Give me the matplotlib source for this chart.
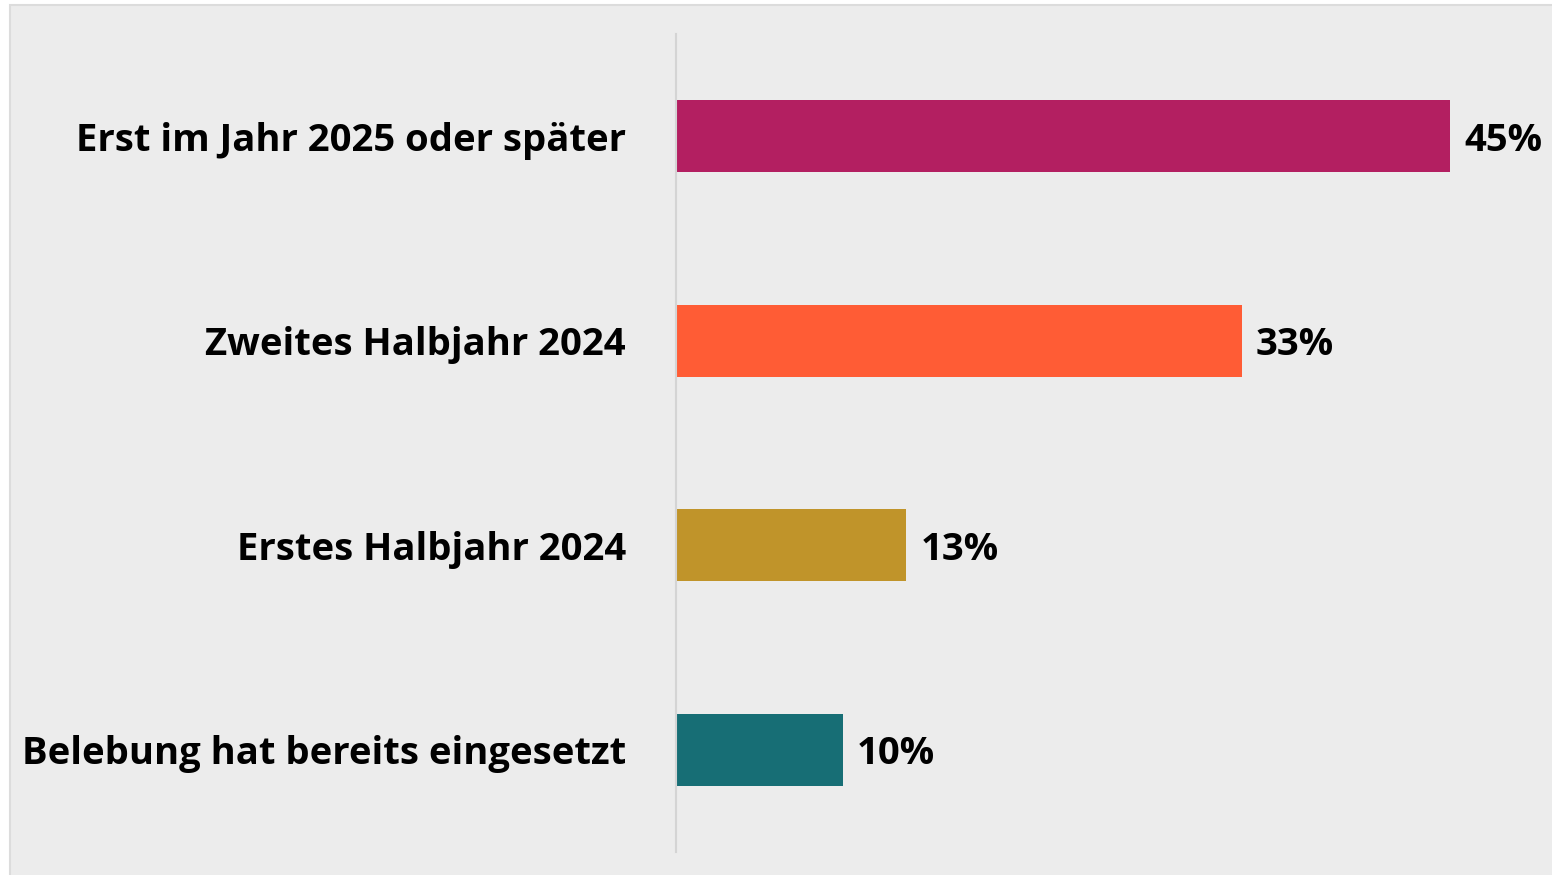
import matplotlib
matplotlib.use("Agg")
import matplotlib.pyplot as plt
from matplotlib.patches import Rectangle

categories = ["Erst im Jahr 2025 oder später", "Zweites Halbjahr 2024",
              "Erstes Halbjahr 2024", "Belebung hat bereits eingesetzt"]
values = [45.0, 32.9, 13.4, 9.7]
colors = ["#b31f61", "#ff5c35", "#c0942a", "#176e75"]

W, H = 1552, 875
fig = plt.figure(figsize=(W / 100, H / 100), dpi=100)
fig.patch.set_facecolor("white")

# gray panel (background axes)
bg = fig.add_axes([0, 0, 1, 1], zorder=-10)
bg.set_xlim(0, W)
bg.set_ylim(H, 0)
bg.axis("off")
bg.add_patch(Rectangle((10, 5), W + 10, H + 10, facecolor="#ececec",
                       edgecolor="#dcdcdc", linewidth=1.5))

ax_left, ax_right = 676, 1540
ax_top, ax_bottom = 34, 852
ax = fig.add_axes([ax_left / W, (H - ax_bottom) / H, (ax_right - ax_left) / W,
                   (ax_bottom - ax_top) / H], zorder=1)
ax.set_facecolor("none")
px_per_unit = (1450 - 676) / 45.0
ax.set_xlim(0, (ax_right - ax_left) / px_per_unit)
ax.set_ylim(len(categories) - 0.5, -0.5)

ypos = list(range(len(categories)))
ax.barh(ypos, values, height=0.353, color=colors, zorder=2)

font = "Open Sans"
fs = 27.5
for y, v in zip(ypos, values):
    ax.text(v + 14 / px_per_unit, y, f"{round(v)}%", va="center_baseline", ha="left",
            fontsize=fs, fontweight="bold", family=font, color="black")

ax.set_yticks(ypos)
ax.set_yticklabels(categories, fontsize=fs, fontweight="bold", family=font,
                   va="center_baseline")
ax.tick_params(axis="y", length=0, pad=36)
ax.set_xticks([])
for s in ["top", "right", "bottom"]:
    ax.spines[s].set_visible(False)
ax.spines["left"].set_color("#d4d4d4")
ax.spines["left"].set_linewidth(1.5)

fig.savefig("out.png", dpi=100, facecolor=fig.get_facecolor())
